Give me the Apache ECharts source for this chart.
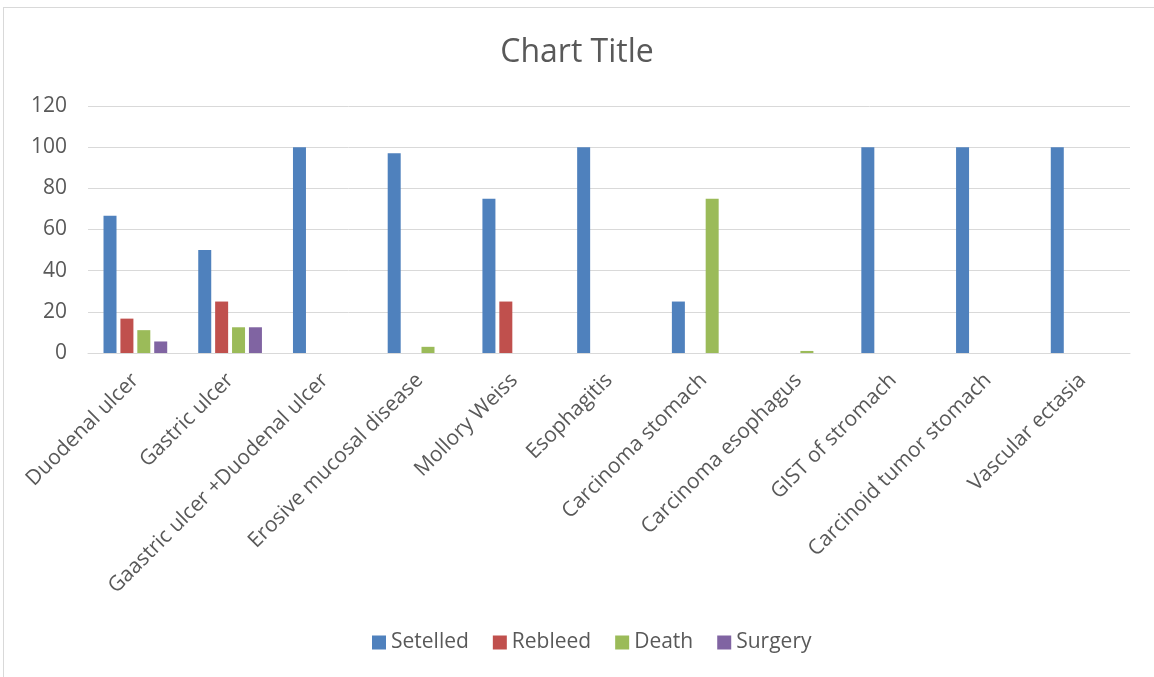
<!DOCTYPE html>
<html><head><meta charset="utf-8">
<script src="https://cdn.jsdelivr.net/npm/echarts@6/dist/echarts.min.js"></script>
<style>html,body{margin:0;padding:0;background:#fff;}#c{width:1154px;height:677px;}
#frame{position:absolute;left:3px;top:7px;width:1200px;height:700px;border-left:1px solid #d9d9d9;border-top:1px solid #d9d9d9;pointer-events:none;}</style>
</head><body><div id="c"></div><div id="frame"></div>
<script>
const categories = ["Duodenal ulcer","Gastric ulcer","Gaastric ulcer +Duodenal ulcer","Erosive mucosal disease","Mollory Weiss","Esophagitis","Carcinoma stomach","Carcinoma esophagus","GIST of stromach","Carcinoid tumor stomach","Vascular ectasia"];
const setelled = [66.7, 50, 100, 97, 75, 100, 25, 0, 100, 100, 100];
const rebleed  = [16.7, 25, 0, 0, 25, 0, 0, 0, 0, 0, 0];
const death    = [11.1, 12.5, 0, 3, 0, 0, 75, 1, 0, 0, 0];
const surgery  = [5.6, 12.5, 0, 0, 0, 0, 0, 0, 0, 0, 0];
const seriesNames = ["Setelled","Rebleed","Death","Surgery"];
const colors = ["#4f81bd","#c0504d","#9bbb59","#8064a2"];
const font = "'Open Sans', sans-serif";
const chart = echarts.init(document.getElementById('c'));
const data = [setelled, rebleed, death, surgery];
chart.setOption({
  animation:false,
  color: colors,
  title:{text:"Chart Title", left:'center', top:32, textStyle:{fontFamily:font,fontSize:32,fontWeight:'normal',color:'#595959'}},
  legend:{top:627, left:367, itemWidth:14, itemHeight:14, itemGap:24, icon:'rect',
    textStyle:{fontFamily:font,fontSize:21,color:'#595959'}},
  grid:{left:88,right:24,top:106,bottom:324,containLabel:false},
  xAxis:{type:'category',data:categories,
    axisLine:{lineStyle:{color:'#d9d9d9'}},axisTick:{show:false},
    axisLabel:{rotate:45,interval:0,fontFamily:font,fontSize:21,color:'#595959',margin:24}},
  yAxis:{type:'value',min:0,max:120,interval:20,
    axisLine:{show:false},axisTick:{show:false},
    splitLine:{lineStyle:{color:'#d9d9d9',width:1}},
    axisLabel:{fontFamily:font,fontSize:21,color:'#595959',margin:21}},
  series: data.map((d,i)=>({name:seriesNames[i],type:'bar',data:d,barWidth:13,barGap:'30%'}))
});
</script></body></html>
